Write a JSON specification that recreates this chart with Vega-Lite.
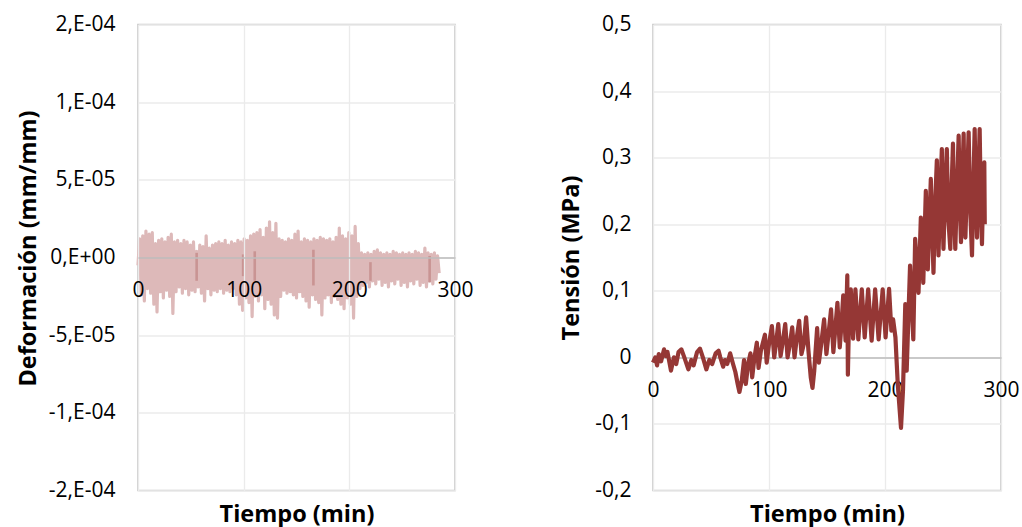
{
  "$schema": "https://vega.github.io/schema/vega-lite/v6.json",
  "background": "white",
  "padding": {"left": 15, "top": 12.5, "right": 5, "bottom": 2},
  "bounds": "flush",
  "spacing": 198,
  "config": {
    "font": "Open Sans",
    "view": {"stroke": "#c6c6c6", "strokeWidth": 1.6},
    "axis": {
      "labelFont": "Open Sans", "labelFontSize": 21, "labelColor": "#000000",
      "titleFont": "Open Sans", "titleFontSize": 23.5, "titleFontWeight": "bold", "titleColor": "#000000",
      "gridColor": "#ebebeb", "gridWidth": 1.3, "ticks": false, "tickSize": 0, "domain": false,
      "labelFlush": false, "labelOverlap": false, "labelBound": false
    }
  },
  "datasets": {
    "strain": [
      {"t":0,"v":-5e-6},{"t":1.5,"v":12e-6},{"t":3,"v":-24e-6},{"t":4.5,"v":14e-6},{"t":6,"v":-28e-6},{"t":7.5,"v":17e-6},{"t":9,"v":-20e-6},{"t":10.5,"v":15e-6},{"t":12,"v":-23e-6},{"t":13.5,"v":16e-6},
      {"t":15,"v":-30e-6},{"t":16.5,"v":9e-6},{"t":18,"v":-35e-6},{"t":19.5,"v":11e-6},{"t":21,"v":-22e-6},{"t":22.5,"v":12e-6},{"t":24,"v":-26e-6},{"t":25.5,"v":10e-6},{"t":27,"v":-21e-6},{"t":28.5,"v":13e-6},
      {"t":30,"v":-25e-6},{"t":31.5,"v":15e-6},{"t":33,"v":-36e-6},{"t":34.5,"v":10e-6},{"t":36,"v":-22e-6},{"t":37.5,"v":11e-6},{"t":39,"v":-19e-6},{"t":40.5,"v":9e-6},{"t":42,"v":-23e-6},{"t":43.5,"v":11e-6},
      {"t":45,"v":-20e-6},{"t":46.5,"v":10e-6},{"t":48,"v":-24e-6},{"t":49.5,"v":8e-6},{"t":51,"v":-21e-6},{"t":52.5,"v":10e-6},{"t":54,"v":-22e-6},{"t":55.5,"v":4e-6},{"t":57,"v":-19e-6},{"t":58.5,"v":8e-6},
      {"t":60,"v":-23e-6},{"t":61.5,"v":7e-6},{"t":63,"v":-28e-6},{"t":64.5,"v":14e-6},{"t":66,"v":-20e-6},{"t":67.5,"v":6e-6},{"t":69,"v":-24e-6},{"t":70.5,"v":8e-6},{"t":72,"v":-21e-6},{"t":73.5,"v":9e-6},
      {"t":75,"v":-22e-6},{"t":76.5,"v":10e-6},{"t":78,"v":-20e-6},{"t":79.5,"v":9e-6},{"t":81,"v":-23e-6},{"t":82.5,"v":11e-6},{"t":84,"v":-21e-6},{"t":85.5,"v":8e-6},{"t":87,"v":-22e-6},{"t":88.5,"v":10e-6},
      {"t":90,"v":-20e-6},{"t":91.5,"v":9e-6},{"t":93,"v":-24e-6},{"t":94.5,"v":11e-6},{"t":96,"v":-30e-6},{"t":97.5,"v":10e-6},{"t":99,"v":-34e-6},{"t":100.5,"v":12e-6},{"t":102,"v":-26e-6},{"t":103.5,"v":11e-6},
      {"t":105,"v":-29e-6},{"t":106.5,"v":14e-6},{"t":108,"v":-38e-6},{"t":109.5,"v":15e-6},{"t":111,"v":-25e-6},{"t":112.5,"v":16e-6},{"t":114,"v":-28e-6},{"t":115.5,"v":18e-6},{"t":117,"v":-24e-6},{"t":118.5,"v":13e-6},
      {"t":120,"v":-33e-6},{"t":121.5,"v":19e-6},{"t":123,"v":-27e-6},{"t":124.5,"v":23e-6},{"t":126,"v":-30e-6},{"t":127.5,"v":16e-6},{"t":129,"v":-37e-6},{"t":130.5,"v":22e-6},{"t":132,"v":-39e-6},{"t":133.5,"v":12e-6},
      {"t":135,"v":-25e-6},{"t":136.5,"v":11e-6},{"t":138,"v":-21e-6},{"t":139.5,"v":10e-6},{"t":141,"v":-23e-6},{"t":142.5,"v":12e-6},{"t":144,"v":-22e-6},{"t":145.5,"v":11e-6},{"t":147,"v":-24e-6},{"t":148.5,"v":15e-6},
      {"t":150,"v":-26e-6},{"t":151.5,"v":17e-6},{"t":153,"v":-22e-6},{"t":154.5,"v":10e-6},{"t":156,"v":-25e-6},{"t":157.5,"v":12e-6},{"t":159,"v":-28e-6},{"t":160.5,"v":11e-6},{"t":162,"v":-32e-6},{"t":163.5,"v":10e-6},
      {"t":165,"v":-24e-6},{"t":166.5,"v":12e-6},{"t":168,"v":-27e-6},{"t":169.5,"v":11e-6},{"t":171,"v":-29e-6},{"t":172.5,"v":13e-6},{"t":174,"v":-37e-6},{"t":175.5,"v":12e-6},{"t":177,"v":-26e-6},{"t":178.5,"v":11e-6},
      {"t":180,"v":-24e-6},{"t":181.5,"v":12e-6},{"t":183,"v":-29e-6},{"t":184.5,"v":10e-6},{"t":186,"v":-25e-6},{"t":187.5,"v":13e-6},{"t":189,"v":-27e-6},{"t":190.5,"v":19e-6},{"t":192,"v":-30e-6},{"t":193.5,"v":14e-6},
      {"t":195,"v":-33e-6},{"t":196.5,"v":12e-6},{"t":198,"v":-26e-6},{"t":199.5,"v":16e-6},{"t":201,"v":-30e-6},{"t":202.5,"v":14e-6},{"t":204,"v":-39e-6},{"t":205.5,"v":20e-6},{"t":207,"v":-25e-6},{"t":208.5,"v":9e-6},
      {"t":210,"v":-20e-6},{"t":211.5,"v":3e-6},{"t":213,"v":-18e-6},{"t":214.5,"v":2e-6},{"t":216,"v":-16e-6},{"t":217.5,"v":3e-6},{"t":219,"v":-19e-6},{"t":220.5,"v":2e-6},{"t":222,"v":-15e-6},{"t":223.5,"v":4e-6},
      {"t":225,"v":-17e-6},{"t":226.5,"v":5e-6},{"t":228,"v":-14e-6},{"t":229.5,"v":3e-6},{"t":231,"v":-18e-6},{"t":232.5,"v":2e-6},{"t":234,"v":-16e-6},{"t":235.5,"v":3e-6},{"t":237,"v":-19e-6},{"t":238.5,"v":2e-6},
      {"t":240,"v":-15e-6},{"t":241.5,"v":4e-6},{"t":243,"v":-17e-6},{"t":244.5,"v":3e-6},{"t":246,"v":-14e-6},{"t":247.5,"v":2e-6},{"t":249,"v":-18e-6},{"t":250.5,"v":3e-6},{"t":252,"v":-16e-6},{"t":253.5,"v":2e-6},
      {"t":255,"v":-19e-6},{"t":256.5,"v":3e-6},{"t":258,"v":-15e-6},{"t":259.5,"v":2e-6},{"t":261,"v":-17e-6},{"t":262.5,"v":4e-6},{"t":264,"v":-14e-6},{"t":265.5,"v":3e-6},{"t":267,"v":-18e-6},{"t":268.5,"v":2e-6},
      {"t":270,"v":-16e-6},{"t":271.5,"v":6e-6},{"t":273,"v":-19e-6},{"t":274.5,"v":3e-6},{"t":276,"v":-15e-6},{"t":277.5,"v":2e-6},{"t":279,"v":-17e-6},{"t":280.5,"v":3e-6},{"t":282,"v":-14e-6},{"t":283.5,"v":1e-6},
      {"t":285,"v":-10e-6}
    ],
    "marks": [
      {"t":55.5,"v":3e-6,"v2":-15e-6},{"t":99.5,"v":2e-6,"v2":-12e-6},{"t":110.5,"v":4e-6,"v2":-15e-6},{"t":166,"v":5e-6,"v2":-18e-6},{"t":220,"v":-3e-6,"v2":-15e-6},{"t":276,"v":1e-6,"v2":-16e-6}
    ],
    "stress": [
      {"t":0,"v":-0.008},{"t":2,"v":0.0},{"t":3.5,"v":-0.012},{"t":5,"v":0.005},{"t":7,"v":-0.006},{"t":9.5,"v":0.012},{"t":11,"v":0.002},{"t":12.5,"v":0.008},{"t":15.5,"v":-0.02},{"t":18,"v":0.0},
      {"t":20,"v":-0.01},{"t":22,"v":0.008},{"t":24.5,"v":0.012},{"t":27,"v":0.0},{"t":30.5,"v":-0.018},{"t":33,"v":-0.004},{"t":35,"v":-0.012},{"t":38,"v":0.008},{"t":40.5,"v":0.013},{"t":43,"v":0.0},
      {"t":46,"v":-0.018},{"t":48.5,"v":-0.004},{"t":51,"v":-0.01},{"t":54,"v":0.006},{"t":56.5,"v":0.01},{"t":58,"v":0.0},{"t":60.5,"v":-0.014},{"t":62,"v":-0.004},{"t":64,"v":-0.01},{"t":66.5,"v":0.006},
      {"t":69,"v":-0.01},{"t":71,"v":-0.022},{"t":73,"v":-0.04},{"t":74.5,"v":-0.052},{"t":76.5,"v":-0.035},{"t":78.5,"v":-0.004},{"t":80,"v":-0.04},{"t":82,"v":-0.01},{"t":84,"v":0.006},{"t":85.5,"v":-0.03},
      {"t":87.5,"v":0.0},{"t":89.5,"v":0.022},{"t":91,"v":-0.016},{"t":93,"v":0.01},{"t":96.5,"v":0.034},{"t":98,"v":-0.008},{"t":100,"v":0.02},{"t":102.5,"v":0.047},{"t":104.5,"v":0.0},{"t":106,"v":0.02},
      {"t":108,"v":0.05},{"t":110,"v":0.002},{"t":112,"v":0.025},{"t":114,"v":0.05},{"t":116,"v":0.0},{"t":118,"v":0.02},{"t":120,"v":0.045},{"t":122,"v":0.0},{"t":124,"v":0.03},{"t":126,"v":0.055},
      {"t":128,"v":0.005},{"t":130,"v":0.02},{"t":132,"v":0.06},{"t":134,"v":0.01},{"t":136,"v":-0.03},{"t":137.5,"v":-0.046},{"t":139,"v":-0.02},{"t":141.5,"v":0.044},{"t":143,"v":-0.008},{"t":145,"v":0.02},
      {"t":147.5,"v":0.057},{"t":149.5,"v":0.005},{"t":151,"v":0.03},{"t":153.5,"v":0.072},{"t":155.5,"v":0.008},{"t":157,"v":0.04},{"t":159,"v":0.082},{"t":161,"v":0.015},{"t":162.5,"v":0.05},{"t":164,"v":0.093},
      {"t":166,"v":0.025},{"t":167.5,"v":0.123},{"t":168,"v":-0.026},{"t":169,"v":0.06},{"t":170.5,"v":0.102},{"t":172.5,"v":0.028},{"t":174.5,"v":0.102},{"t":177,"v":0.027},{"t":180,"v":0.102},{"t":182.5,"v":0.03},
      {"t":185.5,"v":0.102},{"t":188.5,"v":0.025},{"t":191.5,"v":0.102},{"t":194.5,"v":0.027},{"t":198,"v":0.102},{"t":200.5,"v":0.03},{"t":203.5,"v":0.103},{"t":205.5,"v":0.04},{"t":207,"v":0.057},{"t":209,"v":0.03},
      {"t":211,"v":-0.04},{"t":213.8,"v":-0.106},{"t":215.5,"v":-0.05},{"t":217.5,"v":0.08},{"t":218.7,"v":-0.02},{"t":221.6,"v":0.138},{"t":224.4,"v":0.027},{"t":226,"v":0.178},{"t":228.9,"v":0.097},{"t":230.9,"v":0.21},
      {"t":233,"v":0.112},{"t":235.2,"v":0.25},{"t":236.9,"v":0.132},{"t":239.5,"v":0.268},{"t":240.5,"v":0.2},{"t":241.8,"v":0.127},{"t":243,"v":0.22},{"t":244.7,"v":0.296},{"t":245.3,"v":0.2},{"t":246.1,"v":0.153},
      {"t":247.5,"v":0.24},{"t":249,"v":0.313},{"t":249.6,"v":0.22},{"t":250.4,"v":0.163},{"t":251.8,"v":0.25},{"t":253.3,"v":0.313},{"t":254.5,"v":0.21},{"t":256.3,"v":0.163},{"t":257.5,"v":0.26},{"t":258.6,"v":0.321},
      {"t":259.5,"v":0.22},{"t":260.6,"v":0.163},{"t":262,"v":0.25},{"t":263.5,"v":0.333},{"t":264.5,"v":0.23},{"t":265.5,"v":0.173},{"t":266.7,"v":0.27},{"t":267.8,"v":0.336},{"t":268.5,"v":0.24},{"t":269.3,"v":0.18},
      {"t":270.7,"v":0.26},{"t":272.1,"v":0.338},{"t":273.5,"v":0.22},{"t":275,"v":0.153},{"t":276.2,"v":0.26},{"t":277.3,"v":0.343},{"t":278.3,"v":0.24},{"t":279.3,"v":0.18},{"t":280.5,"v":0.27},{"t":281.6,"v":0.343},
      {"t":282.6,"v":0.23},{"t":283.6,"v":0.17},{"t":284.6,"v":0.25},{"t":285.6,"v":0.293},{"t":286,"v":0.2}
    ]
  },
  "hconcat": [
    {
      "width": 317,
      "height": 466,
      "layer": [
        {
          "data": {"name": "strain"},
          "mark": {"type": "line", "color": "#ddb9b9", "strokeWidth": 3.2, "strokeJoin": "round"},
          "encoding": {
            "x": {
              "field": "t", "type": "quantitative",
              "scale": {"domain": [0, 300], "nice": false, "zero": false},
              "axis": {
                "title": "Tiempo (min)", "values": [0, 100, 200, 300], "grid": true,
                "offset": -233, "domain": true, "domainColor": "#bdbdbd", "domainWidth": 1.5,
                "labelPadding": 22, "titleY": 264, "titleBaseline": "alphabetic", "zindex": 1
              }
            },
            "y": {
              "field": "v", "type": "quantitative",
              "scale": {"domain": [-0.00015, 0.00015], "nice": false, "zero": false},
              "axis": {
                "title": "Deformación (mm/mm)", "values": [-0.00015, -0.0001, -0.00005, 0, 0.00005, 0.0001, 0.00015],
                "grid": true, "labelPadding": 23, "titleX": -110, "titleY": 223.5, "titleBaseline": "middle", "titleAlign": "center", "titleAngle": -90,
                "labelExpr": "datum.value > 0.00014 ? '2,E-04' : datum.value > 0.00009 ? '1,E-04' : datum.value > 0.00004 ? '5,E-05' : datum.value > -0.00001 ? '0,E+00' : datum.value > -0.00006 ? '-5,E-05' : datum.value > -0.00011 ? '-1,E-04' : '-2,E-04'"
              }
            }
          }
        },
        {
          "data": {"name": "marks"},
          "mark": {"type": "rule", "color": "#c99493", "strokeWidth": 2.6},
          "encoding": {
            "x": {"field": "t", "type": "quantitative"},
            "y": {"field": "v", "type": "quantitative"},
            "y2": {"field": "v2"}
          }
        }
      ]
    },
    {
      "width": 348,
      "height": 466,
      "data": {"name": "stress"},
      "mark": {"type": "line", "color": "#953735", "strokeWidth": 4.2, "strokeJoin": "round"},
      "encoding": {
        "x": {
          "field": "t", "type": "quantitative",
          "scale": {"domain": [0, 300], "nice": false, "zero": false},
          "axis": {
            "title": "Tiempo (min)", "values": [0, 100, 200, 300], "grid": true,
            "offset": -133, "domain": true, "domainColor": "#bdbdbd", "domainWidth": 1.5,
            "labelPadding": 22, "titleY": 164, "titleBaseline": "alphabetic"
          }
        },
        "y": {
          "field": "v", "type": "quantitative",
          "scale": {"domain": [-0.2, 0.5], "nice": false, "zero": false},
          "axis": {
            "title": "Tensión (MPa)", "values": [-0.2, -0.1, 0, 0.1, 0.2, 0.3, 0.4, 0.5],
            "grid": true, "labelPadding": 22, "titleX": -81.3, "titleBaseline": "middle", "titleAlign": "center", "titleAngle": -90,
            "labelExpr": "replace(replace(format(datum.value, '.1~f'), '.', ','), '−', '-')"
          }
        }
      }
    }
  ]
}
